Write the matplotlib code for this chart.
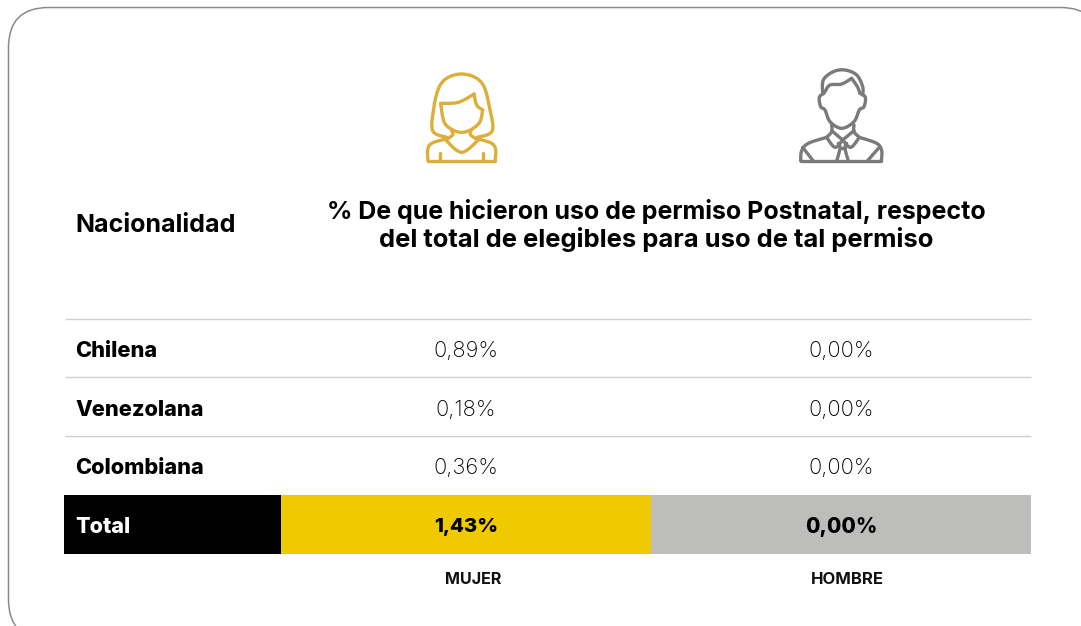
import numpy as np
import matplotlib
matplotlib.use("Agg")
import matplotlib.pyplot as plt
from matplotlib.patches import FancyBboxPatch, Rectangle

FONT = ["Inter", "DejaVu Sans"]

categories = ["Chilena", "Venezolana", "Colombiana"]
mujer = ["0,89%", "0,18%", "0,36%"]
hombre = ["0,00%", "0,00%", "0,00%"]
total_label = "Total"
total_mujer = "1,43%"
total_hombre = "0,00%"
col_header = "Nacionalidad"
title_lines = ["% De que hicieron uso de permiso Postnatal, respecto",
               "del total de elegibles para uso de tal permiso"]
sex_labels = ["MUJER", "HOMBRE"]

W, H = 1081, 626
fig = plt.figure(figsize=(W / 100, H / 100), dpi=100, facecolor="white")
ax = fig.add_axes([0, 0, 1, 1])
ax.set_xlim(0, W)
ax.set_ylim(H, 0)
ax.axis("off")

# card, running off the right and bottom of the canvas
ax.add_patch(FancyBboxPatch((8.5, 7.5), 1092, 632, boxstyle="round,pad=0,rounding_size=40",
                            fc="white", ec="#8a8a8a", lw=1.1, clip_on=True))

# table
row_top = 318.8
row_h = 58.5
for i in range(len(categories)):
    y = row_top + i * row_h
    ax.plot([65, 1031], [y, y], color="#cfcfcf", lw=1.0, solid_capstyle="butt")
    yc = y + row_h / 2 + 3
    ax.text(75, yc, categories[i], fontsize=15.7, fontweight=800, family=FONT, color="black", va="center", ha="left")
    ax.text(466, yc, mujer[i], fontsize=15.8, fontweight="light", family=FONT, color="black", va="center", ha="center")
    ax.text(841, yc, hombre[i], fontsize=15.8, fontweight="light", family=FONT, color="black", va="center", ha="center")

ty, th = 495, 59
ax.add_patch(Rectangle((64, ty), 217, th, fc="black", ec="none"))
ax.add_patch(Rectangle((281, ty), 370, th, fc="#efca00", ec="none"))
ax.add_patch(Rectangle((651, ty), 380, th, fc="#bdbdbb", ec="none"))
yt = ty + th / 2 + 2.5
ax.text(75, yt, total_label, fontsize=15.5, fontweight=800, family=FONT, color="white", va="center")
ax.text(466, yt, total_mujer, fontsize=14.6, fontweight=800, family=FONT, color="black", va="center", ha="center")
ax.text(841, yt, total_hombre, fontsize=15, fontweight=800, family=FONT, color="black", va="center", ha="center")

ax.text(473.5, 579, sex_labels[0], fontsize=11.6, fontweight="bold", family=FONT, color="#111111", va="center", ha="center")
ax.text(847, 579, sex_labels[1], fontsize=12, fontweight="bold", family=FONT, color="#111111", va="center", ha="center")

ax.text(75, 225, col_header, fontsize=18, fontweight="bold", family=FONT, color="black", va="center")
ax.text(656, 211, title_lines[0], fontsize=18, fontweight="bold", family=FONT, color="black", va="center", ha="center")
ax.text(656, 239, title_lines[1], fontsize=18.4, fontweight="bold", family=FONT, color="black", va="center", ha="center")


# icons
def smooth(pts, n=12):
    p = np.array(pts, float)
    q = np.vstack([p[0], p, p[-1]])
    out = []
    for i in range(1, len(q) - 2):
        for t in np.linspace(0, 1, n, endpoint=False):
            a, b, c, d = q[i - 1], q[i], q[i + 1], q[i + 2]
            out.append(0.5 * (2 * b + (c - a) * t + (2 * a - 5 * b + 4 * c - d) * t ** 2
                              + (3 * b - a - 3 * c + d) * t ** 3))
    out.append(p[-1])
    return np.array(out)


def icon(strokes, ox, oy, color, lw=2.4):
    for s in strokes:
        xy = smooth(s)
        ax.plot(ox + xy[:, 0] / 3, oy + xy[:, 1] / 3, color=color, lw=lw,
                solid_capstyle="round", solid_joinstyle="round")


woman = [
    [(140, 232), (98, 212), (102, 140), (118, 80), (145, 52), (185, 42), (225, 52), (252, 80), (268, 140), (277, 212), (232, 232)],
    [(122, 130), (175, 127), (222, 102)],
    [(222, 102), (230, 135), (248, 150)],
    [(248, 150), (240, 185), (215, 208), (185, 217), (155, 208), (132, 185), (122, 130)],
    [(155, 212), (158, 225), (137, 240)],
    [(213, 212), (212, 225), (235, 240)],
    [(137, 240), (185, 277), (235, 240)],
    [(137, 237), (95, 250), (83, 270), (84, 303)],
    [(84, 303), (285, 303)],
    [(235, 237), (275, 250), (287, 270), (285, 303)],
    [(119, 280), (119, 303)],
    [(250, 280), (250, 303)],
]
icon(woman, 400, 60, "#dcae3a")

man = [
    [(128, 100), (130, 60), (160, 35), (195, 30), (230, 45), (248, 80), (248, 105)],
    [(135, 95), (150, 75), (185, 72), (215, 55)],
    [(215, 55), (232, 80), (240, 100)],
    [(132, 100), (118, 112), (122, 140), (135, 150), (150, 185), (185, 205), (222, 185), (238, 150), (252, 140), (256, 112), (240, 100)],
    [(155, 195), (155, 215), (140, 232)],
    [(222, 195), (222, 215), (238, 232)],
    [(155, 212), (188, 240)],
    [(222, 212), (188, 240)],
    [(140, 232), (165, 262), (188, 240)],
    [(238, 232), (212, 262), (188, 240)],
    [(140, 232), (85, 250), (65, 272), (62, 303)],
    [(62, 303), (304, 303)],
    [(238, 232), (290, 250), (305, 272), (304, 303)],
    [(68, 262), (100, 303)],
    [(298, 262), (262, 303)],
    [(175, 250), (180, 265), (170, 303)],
    [(200, 250), (195, 265), (205, 303)],
    [(180, 265), (195, 265)],
]
icon(man, 780, 60, "#7a7a7a")

fig.savefig("out.png", dpi=100)
